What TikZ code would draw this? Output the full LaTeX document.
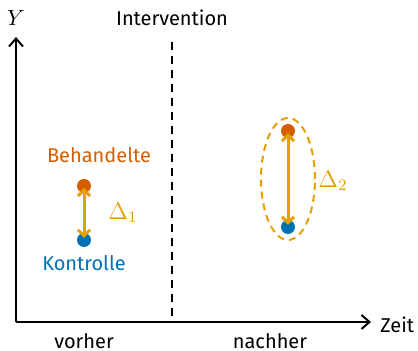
\documentclass[tikz,border=0pt]{standalone}
\usepackage{fontspec}
\setmainfont{Fira Sans}
\usetikzlibrary{arrows.meta,shapes.geometric}
\definecolor{treat}{HTML}{D55E00}
\definecolor{ctrl}{HTML}{0072B2}
\definecolor{diff}{HTML}{E69F00}
\tikzset{
  axis/.style={line width=1pt,-{Straight Barb[length=4pt,width=7pt]}},
  dot/.style={circle,inner sep=0pt,minimum size=7pt},
  gap/.style={line width=1.5pt,diff,{Straight Barb[length=3pt,width=6pt]}-{Straight Barb[length=3pt,width=6pt]},shorten <=1pt,shorten >=1pt},
  lbl/.style={font=\fontsize{10}{12}\selectfont,inner sep=0pt},
  dlbl/.style={inner sep=0pt,text=diff,font=\fontsize{12}{14}\selectfont},
}
\begin{document}
\begin{tikzpicture}[x=0.5pt,y=-0.5pt]
\useasboundingbox (0,0) rectangle (418,351);
% axes
\coordinate (O) at (16,322);
\coordinate (ytop) at (16,37);
\coordinate (xend) at (371,322);
\draw[axis] (O) -- (ytop);
\draw[axis] (O) -- (xend);
\node[inner sep=0pt,font=\fontsize{11}{13}\selectfont] (ylab) at (16,18) {$Y$};
\node[lbl,anchor=west] (zeit) at (380,325) {Zeit};
% intervention
\coordinate (itop) at (172,42);
\coordinate (ibot) at (172,322);
\draw[line width=1pt,dash pattern=on 4pt off 3pt] (itop) -- (ibot);
\node[lbl] (interv) at (172,18) {Intervention};
\node[lbl] (vorher) at (84,341) {vorher};
\node[lbl] (nachher) at (270,341) {nachher};
% before
\node[dot,fill=treat] (t1) at (84,186) {};
\node[dot,fill=ctrl] (c1) at (84,240) {};
\draw[gap] (t1.center) -- (c1.center);
\node[lbl,text=treat] (blab) at (99,155) {Behandelte};
\node[lbl,text=ctrl] (klab) at (84,263) {Kontrolle};
\node[dlbl] (d1) at (123,213) {$\Delta_1$};
% after
\node[dot,fill=treat] (t2) at (288,131) {};
\node[dot,fill=ctrl] (c2) at (288,227) {};
\node[ellipse,draw=diff,line width=1pt,dash pattern=on 3.5pt off 2.5pt,minimum width=27pt,minimum height=61pt,inner sep=0pt] (ell) at (288,179) {};
\draw[gap] (t2.center) -- (c2.center);
\node[dlbl] (d2) at (333,181) {$\Delta_2$};
\end{tikzpicture}
\end{document}
